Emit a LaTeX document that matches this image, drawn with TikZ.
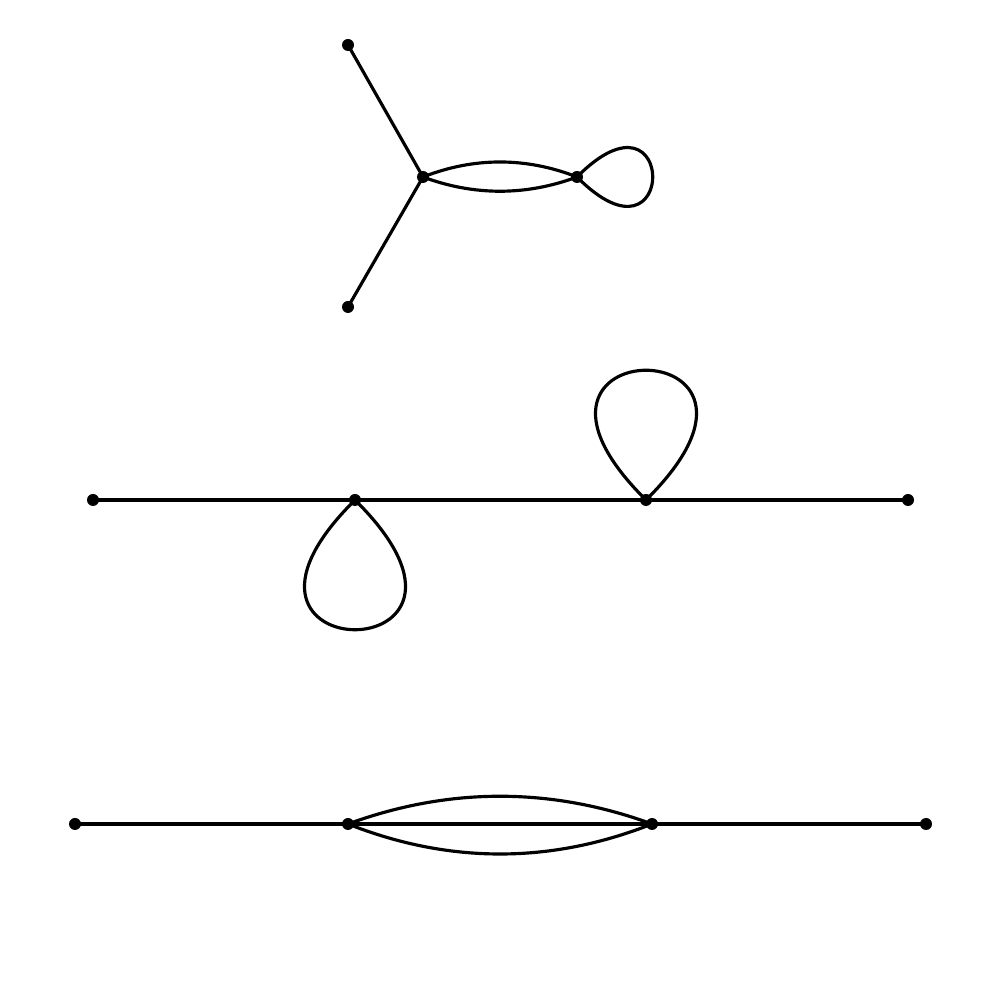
\documentclass[tikz,border=0pt]{standalone}
\begin{document}
\begin{tikzpicture}[line width=0.9pt,
  vtx/.style={circle,fill=black,inner sep=0pt,minimum size=0.12cm}]
\useasboundingbox (0,0) rectangle (10,10);
\begin{scope}[shift={(0.01,-0.01)}]
% top graph
\node[vtx] (a1) at (3.47,9.56) {};
\node[vtx] (a2) at (3.47,6.94) {};
\node[vtx] (a3) at (4.22,8.24) {};
\node[vtx] (a4) at (5.76,8.24) {};
\draw (a1.center) -- (a3.center) -- (a2.center);
\draw (a3.center) .. controls (4.73,8.44) and (5.25,8.44) .. (a4.center);
\draw (a3.center) .. controls (4.73,8.05) and (5.25,8.05) .. (a4.center);
\draw (a4.center) .. controls (6.77,9.26) and (6.77,7.22) .. (a4.center);
% middle graph
\node[vtx] (b1) at (0.92,5.01) {};
\node[vtx] (b2) at (3.54,5.01) {};
\node[vtx] (b3) at (6.45,5.01) {};
\node[vtx] (b4) at (9.07,5.01) {};
\draw (b1.center) -- (b2.center) -- (b3.center) -- (b4.center);
\draw (b3.center) .. controls (4.70,6.74) and (8.20,6.74) .. (b3.center);
\draw (b2.center) .. controls (1.79,3.28) and (5.29,3.28) .. (b2.center);
% bottom graph
\node[vtx] (c1) at (0.74,1.77) {};
\node[vtx] (c2) at (3.47,1.77) {};
\node[vtx] (c3) at (6.51,1.77) {};
\node[vtx] (c4) at (9.25,1.77) {};
\draw (c1.center) -- (c2.center) -- (c3.center) -- (c4.center);
\draw (c2.center) .. controls (4.48,2.14) and (5.50,2.14) .. (c3.center);
\draw (c2.center) .. controls (4.48,1.37) and (5.50,1.37) .. (c3.center);
\end{scope}
\end{tikzpicture}
\end{document}
